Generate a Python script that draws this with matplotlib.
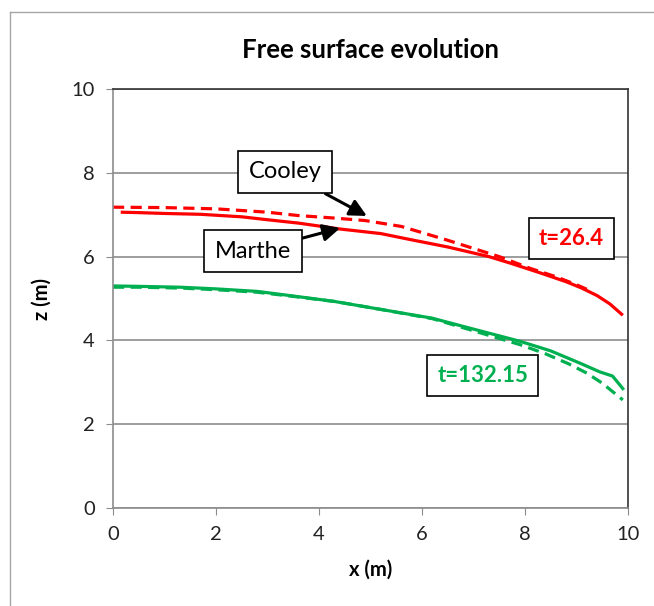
import matplotlib
matplotlib.use("Agg")
import matplotlib.pyplot as plt
from matplotlib.lines import Line2D

plt.rcParams['font.family'] = ['Lato', 'DejaVu Sans']

# t = 26.4
x_marthe_1 = [0.15, 0.5, 1.0, 1.7, 2.5, 3.0, 3.6, 4.4, 5.2, 5.8, 6.5, 7.3, 7.7, 8.3, 8.8, 9.1, 9.4, 9.65, 9.9]
z_marthe_1 = [7.06, 7.05, 7.03, 7.01, 6.95, 6.88, 6.80, 6.66, 6.55, 6.40, 6.23, 6.00, 5.85, 5.61, 5.40, 5.25, 5.07, 4.87, 4.60]
x_cooley_1 = [0.0, 1.0, 2.0, 3.0, 3.6, 4.3, 4.9, 5.6, 6.5, 7.5, 8.1, 8.6, 9.0, 9.2]
z_cooley_1 = [7.18, 7.17, 7.14, 7.06, 6.98, 6.92, 6.86, 6.72, 6.39, 6.00, 5.72, 5.52, 5.33, 5.22]

# t = 132.15
x_marthe_2 = [0.0, 0.5, 1.3, 2.0, 2.8, 3.5, 4.3, 5.2, 6.2, 7.0, 7.9, 8.5, 9.1, 9.45, 9.7, 9.9]
z_marthe_2 = [5.30, 5.29, 5.27, 5.23, 5.17, 5.06, 4.93, 4.74, 4.53, 4.27, 3.98, 3.75, 3.44, 3.25, 3.15, 2.85]
x_cooley_2 = [0.0, 0.5, 1.3, 2.0, 2.8, 3.5, 4.3, 5.2, 6.2, 7.0, 7.9, 8.4, 8.85, 9.2, 9.5, 9.9]
z_cooley_2 = [5.27, 5.27, 5.25, 5.21, 5.15, 5.05, 4.93, 4.74, 4.52, 4.23, 3.90, 3.68, 3.44, 3.22, 2.98, 2.58]

red = '#FF0000'
green = '#00B050'
grid_col = '#8C8C8C'

fig = plt.figure(figsize=(6.54, 6.06), dpi=100)
ax = fig.add_axes([0.1728, 0.1617, 0.7874, 0.6914])

# chart frame (left & top visible)
fig.add_artist(Line2D([10/654, 10/654], [0, 1 - 12/606], transform=fig.transFigure, color='#A6A6A6', lw=1))
fig.add_artist(Line2D([10/654, 1], [1 - 12/606, 1 - 12/606], transform=fig.transFigure, color='#A6A6A6', lw=1))

ax.plot(x_marthe_1, z_marthe_1, color=red, lw=2.3, solid_capstyle='butt')
ax.plot(x_cooley_1, z_cooley_1, color=red, lw=2.3, dashes=(3.5, 2))
ax.plot(x_marthe_2, z_marthe_2, color=green, lw=2.3)
ax.plot(x_cooley_2, z_cooley_2, color=green, lw=2.3, dashes=(3.5, 2))

ax.set_xlim(0, 10)
ax.set_ylim(0, 10)
ax.set_xticks(range(0, 11, 2))
ax.set_yticks(range(0, 11, 2))
ax.yaxis.grid(True, color=grid_col, lw=1.2)
ax.set_axisbelow(True)

for s in ['left', 'bottom']:
    ax.spines[s].set_color(grid_col)
    ax.spines[s].set_linewidth(1.2)
for s in ['top', 'right']:
    ax.spines[s].set_color('#333333')
    ax.spines[s].set_linewidth(1.2)
ax.tick_params(direction='out', length=5, color=grid_col, labelsize=14.5, labelcolor='#222222', pad=8)

ax.set_title('Free surface evolution', fontsize=18.5, fontweight='bold', pad=22)
ax.set_xlabel('x (m)', fontsize=14.5, fontweight='bold', labelpad=12)
ax.set_ylabel('z (m)', fontsize=14.5, fontweight='bold', labelpad=14)

box = dict(boxstyle='square,pad=0.45', fc='white', ec='black', lw=1.2)
arrow = dict(arrowstyle='-|>,head_length=0.6,head_width=0.3', color='black', lw=2.2, shrinkA=0, shrinkB=0)

ax.annotate('Cooley', xy=(4.93, 6.97), xytext=(3.34, 8.02), fontsize=17, ha='center', va='center',
            bbox=box, arrowprops=arrow)
ax.annotate('Marthe', xy=(4.41, 6.68), xytext=(2.72, 6.13), fontsize=17, ha='center', va='center',
            bbox=box, arrowprops=arrow)

ax.text(8.9, 6.44, 't=26.4', fontsize=16, fontweight='bold', color=red, ha='center', va='center', bbox=box)
ax.text(7.18, 3.17, 't=132.15', fontsize=16, fontweight='bold', color=green, ha='center', va='center', bbox=box)

fig.savefig('out.png', dpi=100)
